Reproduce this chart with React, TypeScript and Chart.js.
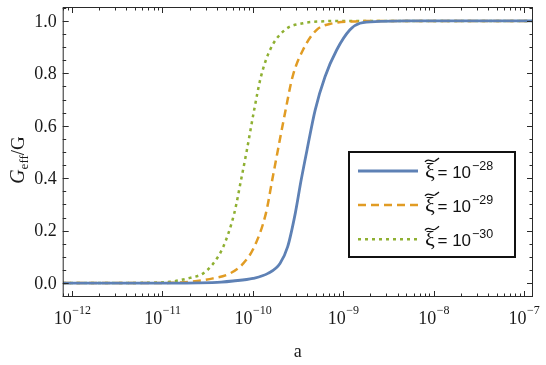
import { useEffect, useRef } from "react";
import { Chart, registerables } from "chart.js";

Chart.register(...registerables);

// ---- axis ranges / ticks ----
const X_MIN_EXP = -12.103;
const X_MAX_EXP = -6.9;
const xTickExps = [-12, -11, -10, -9, -8, -7];
const Y_MIN = -0.053;
const Y_MAX = 1.053;
const yTicks = [0, 0.2, 0.4, 0.6, 0.8, 1.0];
const yTickLabels = ["0.0", "0.2", "0.4", "0.6", "0.8", "1.0"];

// ---- series (log10 a, Geff/G) ----
const seriesExponents = ["\u221228", "\u221229", "\u221230"];

const blueExp = [-12.1, -10.9, -10.6, -10.35, -10.219, -9.998, -9.832, -9.699, -9.614, -9.53, -9.465, -9.4, -9.31, -9.201, -9.072, -8.925, -8.814, -8.6, -8.3, -6.9];
const blueVal = [0, 0, 0.001, 0.004, 0.008, 0.018, 0.037, 0.075, 0.139, 0.266, 0.393, 0.508, 0.66, 0.787, 0.889, 0.966, 0.991, 0.998, 1, 1];

const orangeExp = [-12.1, -11.2, -10.9, -10.695, -10.44, -10.252, -10.105, -9.983, -9.855, -9.785, -9.722, -9.637, -9.56, -9.445, -9.293, -9.113, -8.9, -8.65, -6.9];
const orangeVal = [0, 0, 0.001, 0.005, 0.018, 0.037, 0.075, 0.139, 0.266, 0.393, 0.508, 0.66, 0.787, 0.889, 0.966, 0.991, 0.998, 1, 1];

const greenExp = [-12.1, -11.5, -11.2, -10.916, -10.695, -10.548, -10.437, -10.326, -10.205, -10.13, -10.065, -9.985, -9.91, -9.81, -9.644, -9.445, -9.25, -9.0, -6.9];
const greenVal = [0, 0, 0.001, 0.005, 0.02, 0.037, 0.075, 0.139, 0.266, 0.393, 0.508, 0.66, 0.787, 0.889, 0.966, 0.991, 0.998, 1, 1];

const BLUE = "#5E81B5";
const ORANGE = "#E19C24";
const GREEN = "#8FB032";

const toPoints = (exps: number[], vals: number[]) =>
  exps.map((e, i) => ({ x: Math.pow(10, e), y: vals[i] }));

const SERIF = "'Liberation Serif', 'DejaVu Serif', serif";
const SANS = "'Liberation Sans', Arial, sans-serif";

const framePlugin = {
  id: "mmaFrame",
  afterDatasetsDraw(chart: any) {
    const { ctx, chartArea: a, scales } = chart;
    const xs = scales.x;
    const ys = scales.y;
    ctx.save();

    // frame
    ctx.strokeStyle = "#2a2a2a";
    ctx.lineWidth = 1;
    ctx.strokeRect(a.left + 0.5, a.top + 0.5, a.right - a.left - 1, a.bottom - a.top - 1);

    const majLen = 6;
    const minLen = 3.5;
    ctx.beginPath();
    // x ticks (bottom and top, pointing inward)
    for (let e = -13; e <= -7; e++) {
      for (let k = 1; k <= 9; k++) {
        const v = k * Math.pow(10, e);
        if (v < Math.pow(10, X_MIN_EXP) || v > Math.pow(10, X_MAX_EXP)) continue;
        const px = Math.round(xs.getPixelForValue(v)) + 0.5;
        const len = k === 1 ? majLen : minLen;
        ctx.moveTo(px, a.bottom);
        ctx.lineTo(px, a.bottom - len);
        ctx.moveTo(px, a.top);
        ctx.lineTo(px, a.top + len);
      }
    }
    // y ticks (left and right)
    for (let i = -1; i <= 21; i++) {
      const v = i * 0.05;
      if (v < Y_MIN || v > Y_MAX) continue;
      const py = Math.round(ys.getPixelForValue(v)) + 0.5;
      const len = i % 4 === 0 ? majLen : minLen;
      ctx.moveTo(a.left, py);
      ctx.lineTo(a.left + len, py);
      ctx.moveTo(a.right, py);
      ctx.lineTo(a.right - len, py);
    }
    ctx.stroke();

    // y tick labels
    ctx.fillStyle = "#1a1a1a";
    ctx.font = `18px ${SERIF}`;
    ctx.textAlign = "right";
    ctx.textBaseline = "middle";
    yTicks.forEach((v, i) => {
      ctx.fillText(yTickLabels[i], a.left - 6, ys.getPixelForValue(v) + 1);
    });

    // x tick labels: 10^e
    ctx.textBaseline = "alphabetic";
    ctx.textAlign = "left";
    xTickExps.forEach((e) => {
      const px = xs.getPixelForValue(Math.pow(10, e));
      const base = "10";
      const exp = e < 0 ? "\u2212" + String(-e) : String(e);
      ctx.font = `18px ${SERIF}`;
      const wb = ctx.measureText(base).width;
      ctx.font = `12px ${SERIF}`;
      const we = ctx.measureText(exp).width;
      const x0 = px - (wb + we) / 2;
      ctx.font = `18px ${SERIF}`;
      ctx.fillText(base, x0, 323.5);
      ctx.font = `12px ${SERIF}`;
      ctx.fillText(exp, x0 + wb + 0.5, 313.5);
    });

    // x title
    ctx.font = `18px ${SERIF}`;
    ctx.textAlign = "center";
    ctx.textBaseline = "middle";
    ctx.fillText("a", (a.left + a.right) / 2, 352);

    // y title: G_eff/G rotated
    ctx.save();
    ctx.translate(18, 160);
    ctx.rotate(-Math.PI / 2);
    ctx.textAlign = "left";
    ctx.textBaseline = "alphabetic";
    ctx.font = `italic 20px ${SERIF}`;
    const wG = ctx.measureText("G").width;
    ctx.font = `13px ${SERIF}`;
    const wEff = ctx.measureText("eff").width;
    ctx.font = `19px ${SERIF}`;
    const wRest = ctx.measureText("/G").width;
    let tx = -(wG + wEff + wRest) / 2;
    const by = 6;
    ctx.font = `italic 20px ${SERIF}`;
    ctx.fillText("G", tx, by);
    tx += wG;
    ctx.font = `13px ${SERIF}`;
    ctx.fillText("eff", tx, by + 4);
    tx += wEff;
    ctx.font = `19px ${SERIF}`;
    ctx.fillText("/G", tx, by);
    ctx.restore();

    // legend box
    const bx = 349, byTop = 152, bw = 166, bh = 105;
    ctx.fillStyle = "#ffffff";
    ctx.fillRect(bx, byTop, bw, bh);
    ctx.strokeStyle = "#111";
    ctx.lineWidth = 2;
    ctx.strokeRect(bx, byTop, bw, bh);

    const rowY = [171, 205, 239.3];
    chart.data.datasets.forEach((ds: any, i: number) => {
      const y = rowY[i];
      ctx.save();
      ctx.strokeStyle = ds.borderColor;
      ctx.lineWidth = ds.borderWidth;
      ctx.setLineDash(ds.borderDash || []);
      ctx.beginPath();
      ctx.moveTo(358, y);
      ctx.lineTo(418, y);
      ctx.stroke();
      ctx.restore();

      ctx.fillStyle = "#111";
      ctx.textAlign = "left";
      ctx.textBaseline = "alphabetic";
      // xi with tilde
      ctx.font = `22px ${SERIF}`;
      ctx.fillText("\u03BE", 425, y + 7);
      ctx.save();
      ctx.strokeStyle = "#111";
      ctx.lineWidth = 1.3;
      ctx.beginPath();
      ctx.moveTo(425, y - 9);
      ctx.bezierCurveTo(428, y - 14, 432, y - 8, 435, y - 10);
      ctx.bezierCurveTo(437, y - 11.5, 438, y - 12, 439, y - 13);
      ctx.stroke();
      ctx.restore();
      ctx.font = `17px ${SANS}`;
      const t = "= 10";
      ctx.fillText(t, 437.5, y + 6.5);
      const wt = ctx.measureText(t).width;
      ctx.font = `12.5px ${SANS}`;
      ctx.fillText(seriesExponents[i], 437.5 + wt + 1, y - 1.5);
    });

    ctx.restore();
  },
};

export default function App() {
  const canvasRef = useRef<HTMLCanvasElement | null>(null);

  useEffect(() => {
    if (!canvasRef.current) return;
    const chart = new Chart(canvasRef.current, {
      type: "line",
      data: {
        datasets: [
          {
            label: "xi = 10^-28",
            data: toPoints(blueExp, blueVal),
            borderColor: BLUE,
            borderWidth: 2.8,
            pointRadius: 0,
            fill: false,
            cubicInterpolationMode: "monotone",
          },
          {
            label: "xi = 10^-29",
            data: toPoints(orangeExp, orangeVal),
            borderColor: ORANGE,
            borderWidth: 2.5,
            borderDash: [8, 5],
            pointRadius: 0,
            fill: false,
            cubicInterpolationMode: "monotone",
          },
          {
            label: "xi = 10^-30",
            data: toPoints(greenExp, greenVal),
            borderColor: GREEN,
            borderWidth: 2.5,
            borderDash: [3, 4],
            pointRadius: 0,
            fill: false,
            cubicInterpolationMode: "monotone",
          },
        ],
      },
      options: {
        animation: false,
        responsive: true,
        maintainAspectRatio: false,
        layout: { padding: { top: 7, right: 13, left: 0, bottom: 0 } },
        plugins: { legend: { display: false }, tooltip: { enabled: false } },
        scales: {
          x: {
            type: "logarithmic",
            min: Math.pow(10, X_MIN_EXP),
            max: Math.pow(10, X_MAX_EXP),
            ticks: { display: false },
            grid: { display: false },
            border: { display: false },
            afterFit: (s: any) => {
              s.height = 68;
            },
          },
          y: {
            type: "linear",
            min: Y_MIN,
            max: Y_MAX,
            ticks: { display: false },
            grid: { display: false },
            border: { display: false },
            afterFit: (s: any) => {
              s.width = 62.7;
            },
          },
        },
      },
      plugins: [framePlugin],
    } as any);
    return () => chart.destroy();
  }, []);

  return (
    <div style={{ position: "fixed", left: 0, top: 0, width: 546, height: 365, background: "#fff" }}>
      <canvas ref={canvasRef} />
    </div>
  );
}
